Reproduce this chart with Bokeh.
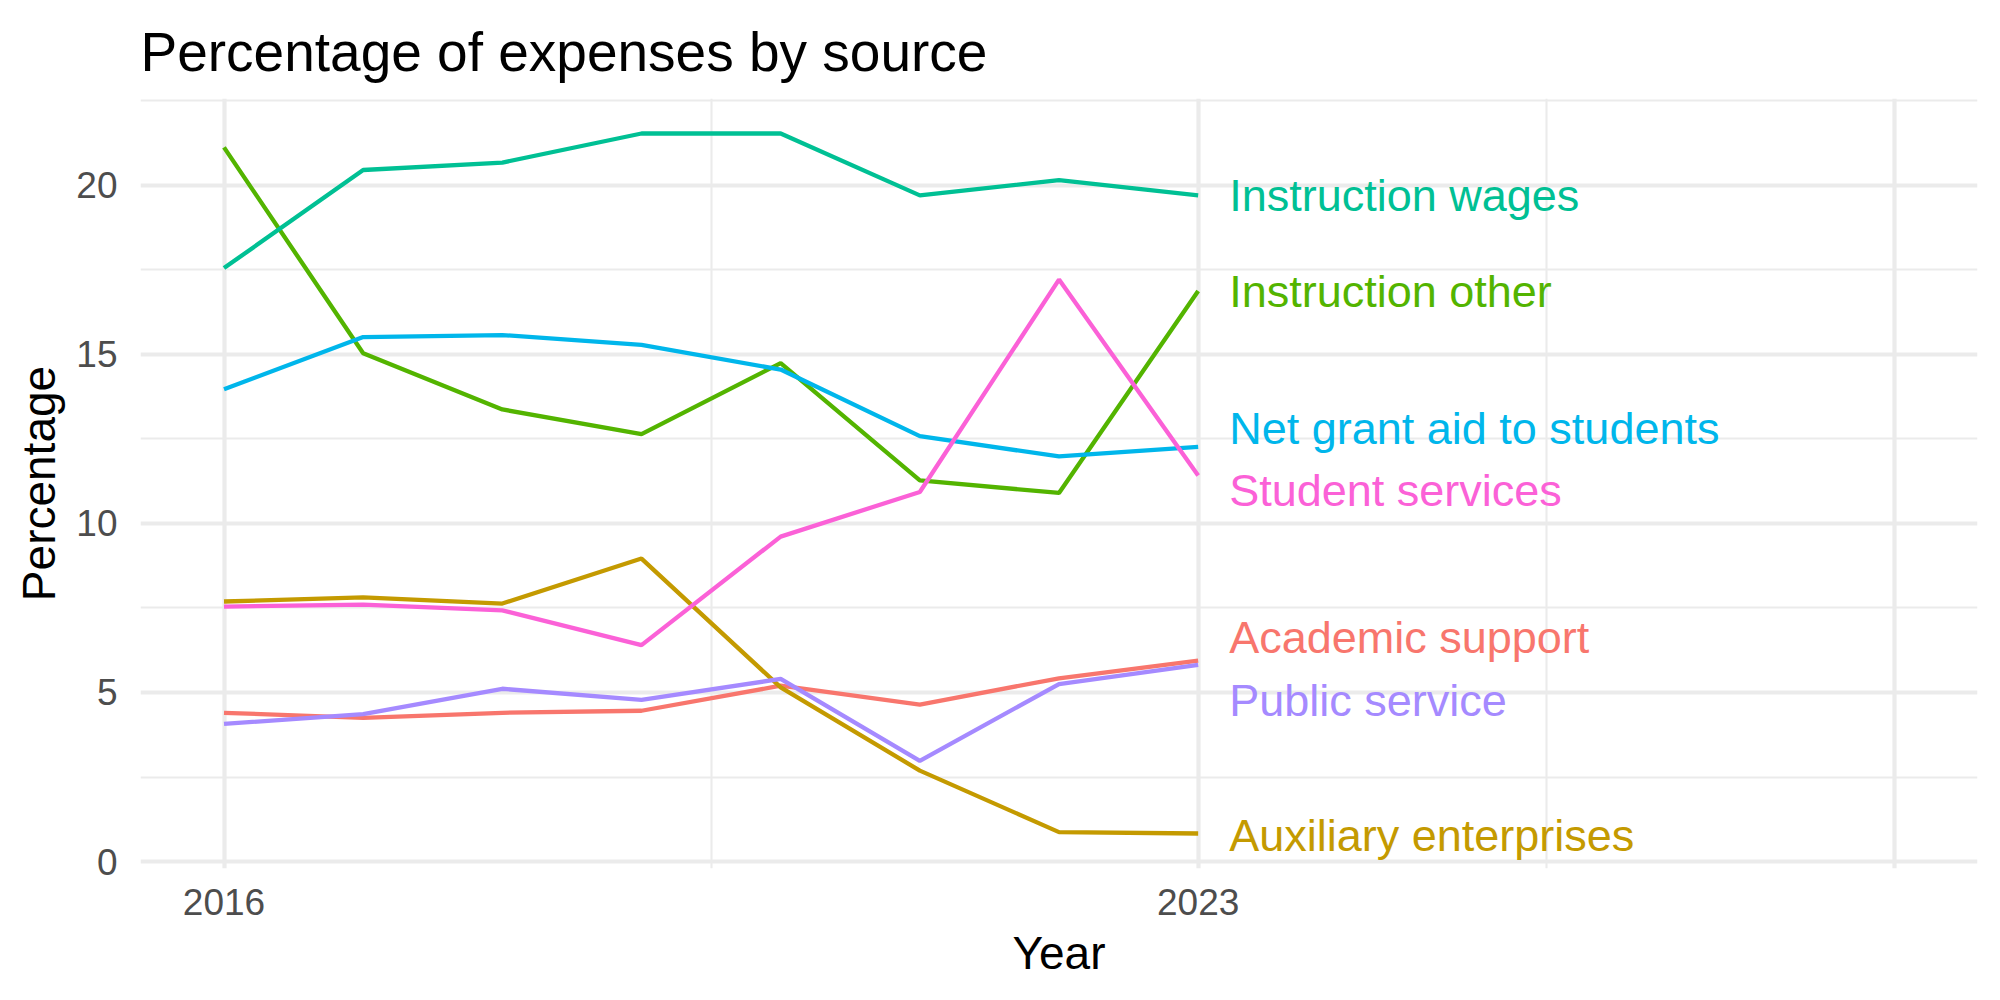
from bokeh.plotting import figure
from bokeh.models import Range1d, FixedTicker, ColumnDataSource
from bokeh.core.properties import value
from bokeh.embed import file_html
from bokeh.resources import INLINE

years = [2016, 2017, 2018, 2019, 2020, 2021, 2022, 2023]

series_names = [
    "Academic support",
    "Auxiliary enterprises",
    "Instruction other",
    "Instruction wages",
    "Net grant aid to students",
    "Public service",
    "Student services",
]
colors = ["#F8766D", "#C49A00", "#53B400", "#00C094", "#00B6EB", "#A58AFF", "#FB61D7"]

academic_support = [4.40, 4.25, 4.40, 4.46, 5.20, 4.64, 5.42, 5.94]
auxiliary_enterprises = [7.69, 7.81, 7.63, 8.96, 5.15, 2.69, 0.87, 0.83]
instruction_other = [21.12, 15.03, 13.37, 12.64, 14.74, 11.27, 10.90, 16.87]
instruction_wages = [17.55, 20.45, 20.67, 21.53, 21.53, 19.70, 20.15, 19.70]
net_grant_aid = [13.97, 15.51, 15.57, 15.28, 14.55, 12.58, 11.98, 12.26]
public_service = [4.07, 4.36, 5.11, 4.78, 5.40, 2.98, 5.25, 5.82]
student_services = [7.54, 7.60, 7.43, 6.40, 9.61, 10.93, 17.21, 11.42]

series_values = [academic_support, auxiliary_enterprises, instruction_other,
                 instruction_wages, net_grant_aid, public_service, student_services]

# label positions (repelled) at the last year
label_y = [6.62, 0.78, 16.87, 19.70, 12.81, 4.76, 10.96]

x_major = [2016, 2023, 2028]
x_minor = [2019.5, 2025.5]
x_labels = {2016: "2016", 2023: "2023", 2028: ""}
y_major = [0, 5, 10, 15, 20]
y_minor = [2.5, 7.5, 12.5, 17.5, 22.5]

title_text = "Percentage of expenses by source"
FONT = "Liberation Sans"

all_vals = [v for s in series_values for v in s]
ymin, ymax = min(all_vals), max(all_vals)
ypad = (ymax - ymin) * 0.05
xlo, xhi = 2016, 2028
xpad = (xhi - xlo) * 0.05

p = figure(width=2000, height=1000, output_backend="svg", toolbar_location=None,
           x_range=Range1d(xlo - xpad, xhi + xpad),
           y_range=Range1d(ymin - ypad, ymax + ypad),
           title=title_text,
           min_border_left=140, min_border_right=23, min_border_top=98, min_border_bottom=132)
p.outline_line_color = None
p.background_fill_color = "white"
p.border_fill_color = "white"

p.title.text_font = FONT
p.title.text_font_size = "55px"
p.title.text_font_style = "normal"
p.title.text_color = "black"
p.title.align = "left"
p.title.vertical_align = "top"
p.title.offset = 0
p.title.standoff = 28

# grids
p.xgrid.ticker = FixedTicker(ticks=x_major, minor_ticks=x_minor)
p.ygrid.ticker = FixedTicker(ticks=y_major, minor_ticks=y_minor)
for g in (p.xgrid, p.ygrid):
    g.grid_line_color = "#EBEBEB"
    g.grid_line_width = 4.2
    g.minor_grid_line_color = "#EBEBEB"
    g.minor_grid_line_width = 2.1

# axes
p.xaxis.ticker = FixedTicker(ticks=x_major)
p.xaxis.major_label_overrides = x_labels
p.yaxis.ticker = FixedTicker(ticks=y_major)
for ax in (p.xaxis, p.yaxis):
    ax.axis_line_color = None
    ax.major_tick_line_color = None
    ax.minor_tick_line_color = None
    ax.major_tick_out = 0
    ax.major_tick_in = 0
    ax.minor_tick_out = 0
    ax.minor_tick_in = 0
    ax.major_label_text_font = FONT
    ax.major_label_text_font_size = "37px"
    ax.major_label_text_color = "#4D4D4D"
    ax.axis_label_text_font = FONT
    ax.axis_label_text_font_size = "46px"
    ax.axis_label_text_font_style = "normal"
    ax.axis_label_text_color = "black"
p.xaxis.axis_label = "Year"
p.yaxis.axis_label = "Percentage"
p.xaxis.major_label_standoff = 20
p.yaxis.major_label_standoff = 23
p.xaxis.axis_label_standoff = 9
p.yaxis.axis_label_standoff = 8

for name, vals, col in zip(series_names, series_values, colors):
    p.line(x=years, y=vals, line_color=col, line_width=4.3)

src = ColumnDataSource(dict(
    x=[years[-1]] * len(series_names),
    y=label_y,
    text=series_names,
    color=colors,
))
p.text(x="x", y="y", text="text", source=src, text_color="color",
       text_font=value(FONT), text_font_size="45px",
       text_align="left", text_baseline="middle", x_offset=31)

open("out.html", "w").write(file_html(p, INLINE))
